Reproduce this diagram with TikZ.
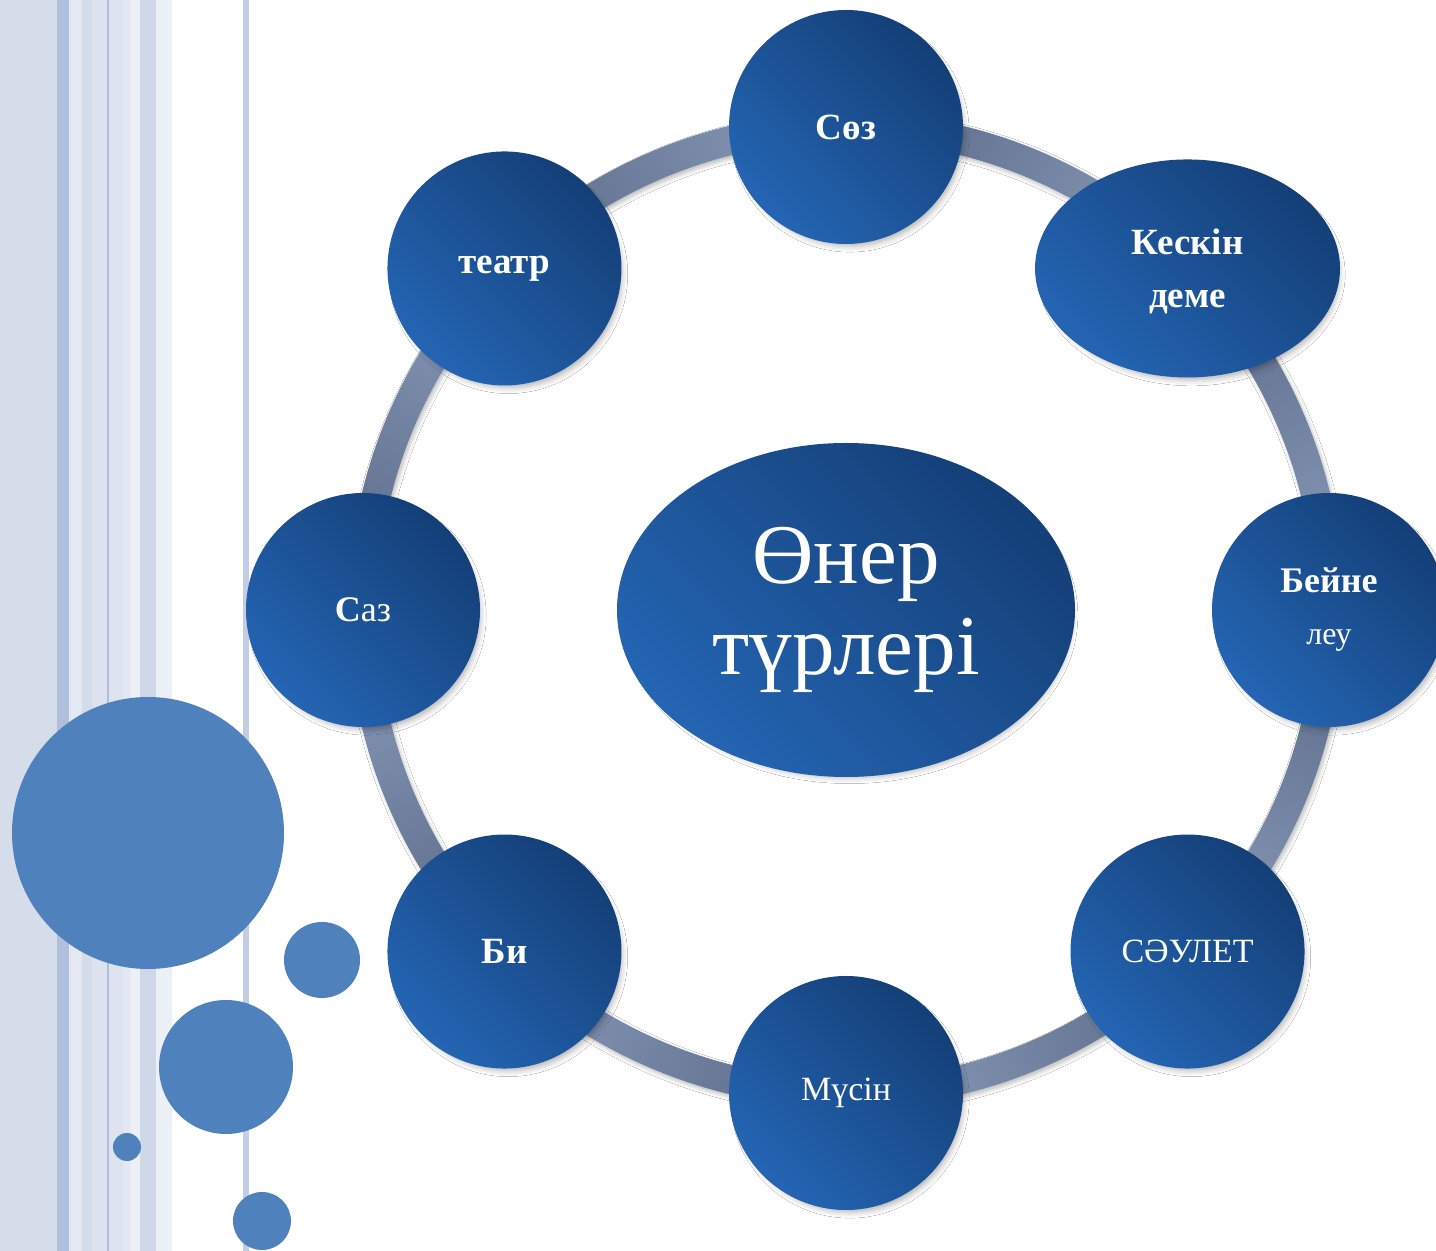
\documentclass[tikz,border=0pt]{standalone}
\usepackage{fontspec}
\setmainfont{Liberation Serif}
\usetikzlibrary{shapes.geometric,shadows.blur}
\definecolor{sA}{HTML}{D5DCEA}
\definecolor{sB}{HTML}{B0C0DA}
\definecolor{sC}{HTML}{E3E8F2}
\definecolor{sD}{HTML}{D4DCEA}
\definecolor{sE}{HTML}{DCE2EE}
\definecolor{sF}{HTML}{DDE3EF}
\definecolor{sG}{HTML}{ECF0F7}
\definecolor{sH}{HTML}{CFD8E8}
\definecolor{sI}{HTML}{C0CDE3}
\definecolor{dotblue}{HTML}{4F81BD}
\definecolor{nodelight}{HTML}{2465B3}
\definecolor{nodedark}{HTML}{143F77}
\definecolor{ringlight}{HTML}{8797B6}
\definecolor{ringdark}{HTML}{5D6D8B}
\tikzset{
  nshadow/.style={blur shadow={shadow xshift=4pt,shadow yshift=-6pt,shadow blur radius=6pt,shadow opacity=30,shadow scale=0.97}},
  petal/.style={circle,minimum size=234pt,inner sep=0pt,text=white,align=center,
    left color=nodelight,right color=nodedark,shading angle=135,nshadow,
    font=\fontsize{36}{52}\selectfont},
  boldtxt/.style={font=\fontsize{37}{53}\selectfont\bfseries},
  regtxt/.style={font=\fontsize{34}{48}\selectfont},
  dot/.style={fill=dotblue}
}
\begin{document}
\begin{tikzpicture}[x=1pt,y=1pt]
\useasboundingbox (0,0) rectangle (1436,1251);
\clip (0,0) rectangle (1436,1251);
\fill[white] (0,0) rectangle (1436,1251);
% stripes
\fill[sA] (0,0) rectangle (57,1251);
\fill[sB] (57,0) rectangle (69,1251);
\fill[sC] (69,0) rectangle (82,1251);
\fill[sD] (82,0) rectangle (92,1251);
\fill[sE] (92,0) rectangle (107,1251);
\fill[sB] (107,0) rectangle (109,1251);
\fill[sF] (109,0) rectangle (123,1251);
\fill[sC] (123,0) rectangle (131,1251);
\fill[sG] (131,0) rectangle (140,1251);
\fill[sH] (140,0) rectangle (156,1251);
\fill[sG] (156,0) rectangle (172,1251);
\fill[sI] (243,0) rectangle (249,1251);
% decorative circles
\fill[dot] (148,418) circle[radius=136];
\fill[dot] (322,291) circle[radius=38];
\fill[dot] (226,184) circle[radius=67];
\fill[dot] (127,104) circle[radius=14];
\fill[dot] (262,30) circle[radius=29];
% ring
\coordinate (C) at (846,641);
\foreach \a in {0,45,...,315}{
  \pgfmathsetmacro\b{\a-45}
  \pgfmathsetmacro\d{\a+157.5}
  \path[left color=ringlight,right color=ringdark,shading angle=\d,
        blur shadow={shadow xshift=2pt,shadow yshift=-3pt,shadow blur radius=4pt,shadow opacity=25}]
    ([shift={(\a:498)}]C) arc[start angle=\a,end angle=\b,radius=498]
    -- ([shift={(\b:469)}]C) arc[start angle=\b,end angle=\a,radius=469] -- cycle;
}
% nodes
\node[petal,boldtxt] (soz) at ([shift={(90:483)}]C) {Сөз};
\node[petal,boldtxt,ellipse,minimum width=305pt,minimum height=218pt,text depth=0pt] (keskin) at ([shift={(45:483)}]C) {Кескін\\деме};
\node[petal] (beine) at ([shift={(0:483)}]C) {{\bfseries Бейне}\\{\fontsize{32}{52}\selectfont леу}};
\node[petal,regtxt] (saulet) at ([shift={(-45:483)}]C) {СӘУЛЕТ};
\node[petal,regtxt] (musin) at ([shift={(-90:483)}]C) {Мүсін};
\node[petal,boldtxt] (bi) at ([shift={(-135:483)}]C) {Би};
\node[petal] (saz) at ([shift={(180:483)}]C) {{\bfseries С}аз};
\node[petal,boldtxt] (teatr) at ([shift={(135:483)}]C) {театр};
\node[petal,ellipse,minimum width=458pt,minimum height=334pt,font=\fontsize{85}{91}\selectfont] (center) at (C) {Өнер\\түрлері};
\end{tikzpicture}
\end{document}
